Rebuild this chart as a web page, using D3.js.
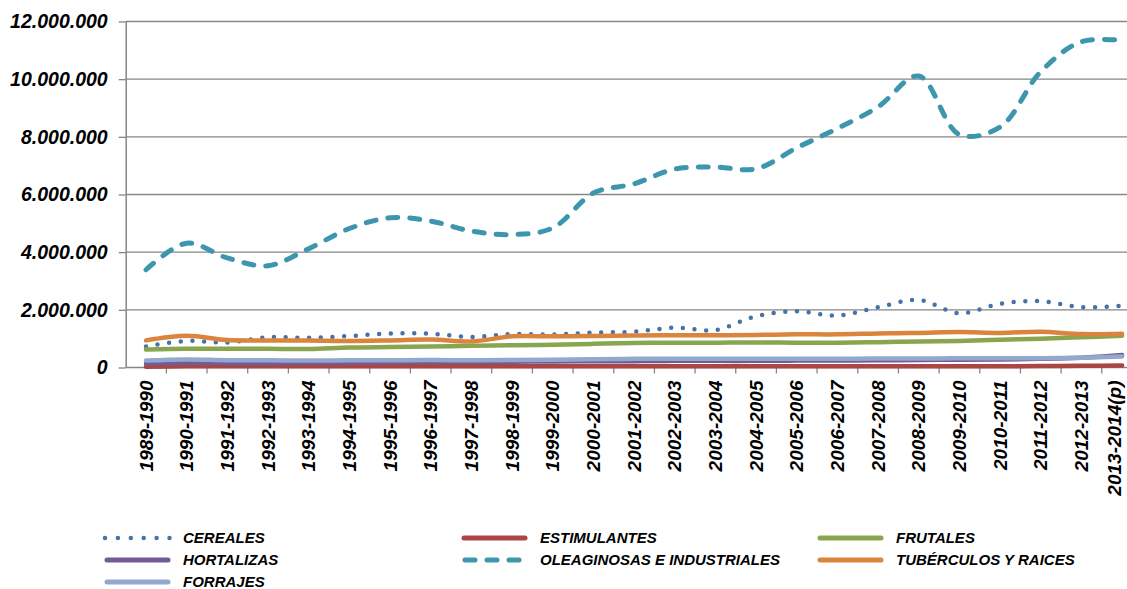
<!DOCTYPE html>
<html>
<head>
<meta charset="utf-8">
<script src="https://cdn.jsdelivr.net/npm/d3@7"></script>
<style>
  html, body { margin: 0; padding: 0; background: #fff; }
  svg { display: block; }
  text { font-family: "Liberation Sans", Arial, sans-serif; font-weight: bold; font-style: italic; fill: #000; }
</style>
</head>
<body>
<svg id="chart" width="1127" height="589"></svg>
<script>
// Campaign years (x axis)
const categories = [
  "1989-1990", "1990-1991", "1991-1992", "1992-1993", "1993-1994", "1994-1995",
  "1995-1996", "1996-1997", "1997-1998", "1998-1999", "1999-2000", "2000-2001",
  "2001-2002", "2002-2003", "2003-2004", "2004-2005", "2005-2006", "2006-2007",
  "2007-2008", "2008-2009", "2009-2010", "2010-2011", "2011-2012", "2012-2013",
  "2013-2014(p)"
];

// Production by crop group
const cereales = [730000, 920000, 870000, 1050000, 1030000, 1090000, 1180000, 1170000, 1060000, 1160000, 1140000, 1210000, 1240000, 1380000, 1300000, 1780000, 1950000, 1800000, 2090000, 2340000, 1880000, 2210000, 2300000, 2090000, 2140000];
const estimulantes = [30000, 40000, 40000, 40000, 40000, 40000, 40000, 40000, 40000, 40000, 40000, 40000, 40000, 40000, 40000, 40000, 45000, 45000, 45000, 45000, 45000, 45000, 50000, 60000, 70000];
const frutales = [620000, 650000, 650000, 650000, 640000, 690000, 710000, 730000, 750000, 770000, 790000, 820000, 850000, 860000, 860000, 870000, 860000, 860000, 880000, 900000, 920000, 960000, 1000000, 1050000, 1100000];
const hortalizas = [140000, 160000, 150000, 150000, 160000, 170000, 180000, 190000, 190000, 200000, 210000, 220000, 220000, 230000, 230000, 230000, 240000, 240000, 250000, 260000, 270000, 280000, 300000, 340000, 430000];
const oleaginosas = [3390000, 4310000, 3800000, 3530000, 4120000, 4820000, 5190000, 5080000, 4730000, 4610000, 4840000, 6050000, 6370000, 6880000, 6950000, 6890000, 7620000, 8290000, 9040000, 10110000, 8080000, 8340000, 10260000, 11300000, 11340000];
const tuberculos = [940000, 1100000, 950000, 940000, 940000, 920000, 940000, 970000, 900000, 1080000, 1080000, 1090000, 1110000, 1120000, 1120000, 1130000, 1150000, 1150000, 1180000, 1200000, 1230000, 1200000, 1240000, 1160000, 1170000];
const forrajes = [240000, 280000, 250000, 250000, 240000, 250000, 250000, 260000, 250000, 260000, 270000, 290000, 300000, 300000, 300000, 300000, 300000, 300000, 310000, 310000, 320000, 320000, 320000, 340000, 380000];

// Y axis ticks
const yTicks = [0, 2000000, 4000000, 6000000, 8000000, 10000000, 12000000];

const seriesNames = ["CEREALES", "ESTIMULANTES", "FRUTALES", "HORTALIZAS", "OLEAGINOSAS E INDUSTRIALES", "TUBÉRCULOS Y RAICES", "FORRAJES"];
const seriesValues = [cereales, estimulantes, frutales, hortalizas, oleaginosas, tuberculos, forrajes];

const styles = [
  { color: "#4572A7", dash: "0 11.7", width: 4.5 },
  { color: "#AA4643", dash: null, width: 4.5 },
  { color: "#89A54E", dash: null, width: 4.5 },
  { color: "#745A96", dash: null, width: 4.5 },
  { color: "#3D96AE", dash: "10 12", width: 5 },
  { color: "#DB843D", dash: null, width: 4.5 },
  { color: "#92A8CD", dash: null, width: 4.5 }
];

const svg = d3.select("#chart");

const plot = { left: 125.7, top: 21.5, bottom: 367.5, step: 40.67 };

const x = d3.scaleBand()
  .domain(categories)
  .range([plot.left, plot.left + categories.length * plot.step])
  .padding(0);

const y = d3.scaleLinear()
  .domain([0, 12000000])
  .range([plot.bottom, plot.top]);

const es = d3.formatLocale({ decimal: ",", thousands: ".", grouping: [3], currency: ["", ""] });
const fmt = es.format(",d");

const axisColor = "#868686";

// Horizontal gridlines
svg.append("g")
  .selectAll("line")
  .data(yTicks.filter(d => d > 0))
  .join("line")
  .attr("x1", plot.left)
  .attr("x2", plot.left + categories.length * plot.step)
  .attr("y1", d => y(d))
  .attr("y2", d => y(d))
  .attr("stroke", axisColor)
  .attr("stroke-width", 1.3);

// Y axis
const yAxis = svg.append("g")
  .attr("transform", `translate(${plot.left},0)`)
  .call(d3.axisLeft(y).tickValues(yTicks).tickFormat(fmt).tickSize(7).tickSizeOuter(0).tickPadding(11));
yAxis.select(".domain").attr("stroke", axisColor).attr("stroke-width", 1.5);
yAxis.selectAll(".tick line").attr("stroke", axisColor).attr("stroke-width", 1.3);
yAxis.selectAll(".tick text")
  .attr("font-size", 19.5)
  .attr("font-family", "'Liberation Sans', Arial, sans-serif")
  .attr("fill", "#000");

// X axis with ticks between categories
const xAxis = svg.append("g")
  .attr("transform", `translate(0,${plot.bottom})`);
xAxis.append("line")
  .attr("x1", plot.left)
  .attr("x2", plot.left + categories.length * plot.step)
  .attr("stroke", axisColor)
  .attr("stroke-width", 1.5);
xAxis.selectAll("line.tick")
  .data(categories)
  .join("line")
  .attr("class", "tick")
  .attr("x1", d => x(d) + x.bandwidth())
  .attr("x2", d => x(d) + x.bandwidth())
  .attr("y1", 0)
  .attr("y2", 6)
  .attr("stroke", axisColor)
  .attr("stroke-width", 1.3);
xAxis.selectAll("text")
  .data(categories)
  .join("text")
  .attr("transform", d => {
    // keep the last label inside the page edge
    const cx = Math.min(x(d) + x.bandwidth() / 2, 1114);
    return `translate(${cx},13) rotate(-90)`;
  })
  .attr("text-anchor", "end")
  .attr("dy", "0.35em")
  .attr("font-size", 19)
  .text(d => d);

// Series lines (smoothed)
const line = d3.line()
  .x((d, i) => x(categories[i]) + x.bandwidth() / 2)
  .y(d => y(d))
  .curve(d3.curveCatmullRom.alpha(0.5));

const linesG = svg.append("g");
seriesValues.forEach((vals, k) => {
  const s = styles[k];
  linesG.append("path")
    .datum(vals)
    .attr("d", line)
    .attr("fill", "none")
    .attr("stroke", s.color)
    .attr("stroke-width", s.width)
    .attr("stroke-linecap", "round")
    .attr("stroke-linejoin", "round")
    .attr("stroke-dasharray", s.dash);
});

// Legend
const legendCols = [105, 462, 818];
const legendRows = [538, 560, 582];
const legend = svg.append("g");
seriesNames.forEach((name, k) => {
  const col = legendCols[k % 3];
  const row = legendRows[Math.floor(k / 3)];
  const s = styles[k];
  const g = legend.append("g");
  if (k === 0) {
    g.append("line")
      .attr("x1", col).attr("x2", col + 66)
      .attr("y1", row).attr("y2", row)
      .attr("stroke", s.color).attr("stroke-width", 4.5)
      .attr("stroke-linecap", "round")
      .attr("stroke-dasharray", "0 12.9");
  } else if (k === 4) {
    g.append("line")
      .attr("x1", col + 3).attr("x2", col + 66)
      .attr("y1", row).attr("y2", row)
      .attr("stroke", s.color).attr("stroke-width", 5)
      .attr("stroke-linecap", "round")
      .attr("stroke-dasharray", "10 12");
  } else {
    g.append("line")
      .attr("x1", col + 2).attr("x2", col + 63)
      .attr("y1", row).attr("y2", row)
      .attr("stroke", s.color).attr("stroke-width", 5)
      .attr("stroke-linecap", "round");
  }
  g.append("text")
    .attr("x", col + 78)
    .attr("y", row)
    .attr("dy", "0.36em")
    .attr("font-size", 15)
    .text(name);
});
</script>
</body>
</html>
